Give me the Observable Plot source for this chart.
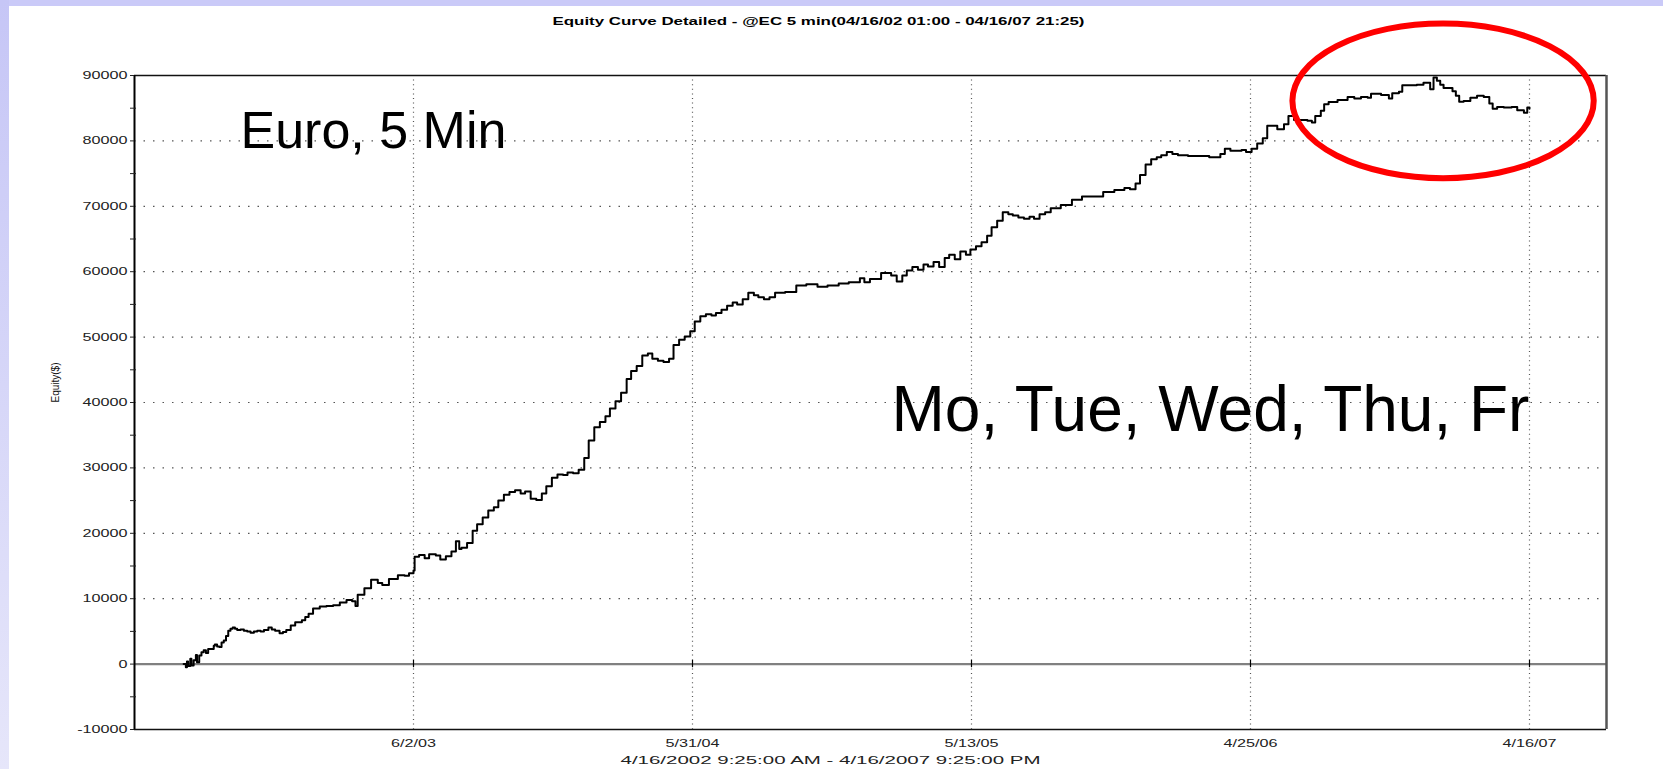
<!DOCTYPE html>
<html>
<head>
<meta charset="utf-8">
<script src="https://cdn.jsdelivr.net/npm/d3@7"></script>
<script src="https://cdn.jsdelivr.net/npm/@observablehq/plot@0.6"></script>
<style>
  html, body { margin: 0; padding: 0; background: #fff; }
  body { width: 1663px; height: 769px; position: relative; overflow: hidden; font-family: "Liberation Sans", Arial, sans-serif; }
  #band-top { position: absolute; left: 0; top: 0; width: 1663px; height: 6px; background: #cacaf8; z-index: 2; }
  #band-left { position: absolute; left: 0; top: 0; width: 9px; height: 769px; background: linear-gradient(#c6c6f6, #e6e6fa); z-index: 2; }
  #chart { position: absolute; left: 0; top: 0; }
</style>
</head>
<body>
<div id="band-top"></div>
<div id="band-left"></div>
<div id="chart"></div>
<script>
// ---------- data ----------
const titleText = "Equity Curve Detailed - @EC 5 min(04/16/02 01:00 - 04/16/07 21:25)";
const xLabelText = "4/16/2002 9:25:00 AM - 4/16/2007 9:25:00 PM";
const yLabelText = "Equity($)";
const notes = ["Euro, 5 Min", "Mo, Tue, Wed, Thu, Fr"];

// bar position (sessions, 250 per grid interval) and equity in $
const bars = [44,46,47,48,50,51,53,55,56,58,60,62,64,66,68,71,72,74,76,78,80,82,84,86,88,90,92,95,98,101,104,107,110,113,116,120,123,126,130,133,136,140,144,150,153,156,160,166,172,178,184,190,195,198,200,206,212,218,222,228,
236,242,246,250,251,255,260,264,270,274,279,284,288,291,293,298,303,307,312,317,322,326,331,336,341,346,350,355,360,365,369,374,379,384,388,393,398,403,407,412,417,422,426,431,436,441,445,450,455,460,464,469,474,479,483,488,493,498,502,507,512,517,521,526,531,536,540,545,550,555,559,564,569,574,583,593,602,612,621,631,640,650,654,659,669,678,683,688,692,697,702,707,711,716,721,726,730,735,740,745,749,754,759,764,768,773,778,783,787,792,797,802,806,811,816,821,830,840,849,859,868,878,887,892,897,901,906,911,916,920,925,930,935,944,954,963,973,977,982,992,996,1001,1006,1011,1015,
1018,1024,1030,1034,1039,1045,1051,1055,1058,1063,1066,1070,1078,1087,1093,1099,1105,1108,1117,1124,1127,1133,1136,1143,1149,1155,1161,1164,1167,1170,1173,1181,1184,1187,1191,1197,1203,1209,1214,1217,1221,1227,1234,1239,1245,1248,1250];
const equity = [0,-500,400,-300,800,-200,600,1400,300,1300,1800,2100,1700,2300,2300,2800,3000,2700,2600,3300,3600,4300,5100,5400,5600,5400,5200,5300,5100,5000,4800,5000,5100,5000,5200,5600,5300,5100,4700,4900,5200,5900,6400,6700,7200,7700,8500,8800,8900,9000,9400,9800,9600,8900,10600,11600,12900,12400,12100,13000,
13600,13500,13900,14300,16400,16700,16200,16800,16600,16000,16500,17200,18800,17600,17800,18500,20400,21400,22400,23500,24000,25000,25900,26300,26600,26100,26400,25300,25100,26100,27200,28500,29000,28900,29300,29200,29700,31500,34200,36200,37000,37900,39100,40200,41500,43600,44800,45600,47200,47500,46700,46400,46200,46700,48800,49600,50100,50900,52400,53200,53500,53300,53700,54200,54800,55300,55000,55800,56800,56400,56100,55800,56100,56800,56900,57900,58100,57700,57900,58200,58400,59000,58400,58900,59800,59400,58500,59400,60200,60700,60300,61100,60800,61500,60700,62100,62600,61900,63100,62600,63400,63900,64500,65500,66800,67800,69100,68800,68600,68300,68100,68400,68100,68800,69100,69700,70200,71000,71500,71500,72200,72500,72800,72600,73500,74800,76400,77200,77500,77800,78300,78000,77800,77700,77700,77500,78000,78800,78500,78600,78300,78800,79600,80400,82300,
82300,81800,82550,83800,83200,83200,83100,82800,83800,84600,85600,85950,86260,86700,86500,86700,86600,87200,87000,86500,87300,87500,88500,88500,88600,88900,87900,89700,89200,88600,88100,87600,86900,86000,86100,86600,86900,86700,85700,84900,85200,85100,85200,84700,84300,85100,84900];

const xTickBars = [250, 500, 750, 1000, 1250];
const xTickLabels = ["6/2/03", "5/31/04", "5/13/05", "4/25/06", "4/16/07"];
const yTicks = [-10000, 0, 10000, 20000, 30000, 40000, 50000, 60000, 70000, 80000, 90000];
const yMinorTicks = [-5000, 5000, 15000, 25000, 35000, 45000, 55000, 65000, 75000, 85000];
const yGridValues = [10000, 20000, 30000, 40000, 50000, 60000, 70000, 80000];
const xDomain = [0, 1319];
const yDomain = [-10000, 90000];
// highlighted region (circled in red): bar range and equity range
const highlight = {barStart: 1038, barEnd: 1308, low: 74230, high: 97880};

// ---------- chart ----------
const data = bars.map((b, i) => ({bar: b, equity: equity[i]}));
const labelByBar = new Map(xTickBars.map((b, i) => [b, xTickLabels[i]]));

const chart = Plot.plot({
  width: 1663,
  height: 769,
  marginLeft: 134,
  marginRight: 57,
  marginTop: 75,
  marginBottom: 40,
  style: {background: "transparent", fontFamily: "'Liberation Sans', Arial, sans-serif", fontSize: "11px", color: "#222", overflow: "visible"},
  x: {domain: xDomain, axis: null},
  y: {domain: yDomain, axis: null},
  marks: [
    Plot.ruleY(yGridValues, {stroke: "#555", strokeWidth: 1.2, strokeDasharray: "1.5,8"}),
    Plot.ruleX(xTickBars, {stroke: "#555", strokeWidth: 1.2, strokeDasharray: "1,3.6"}),
    Plot.ruleY([0], {stroke: "#808080", strokeWidth: 2.2}),
    Plot.ruleX(xTickBars, {y1: -550, y2: 550, stroke: "#000", strokeWidth: 1.2}),
    Plot.line(data, {x: "bar", y: "equity", curve: "step-after", stroke: "#000", strokeWidth: 2}),
    Plot.ruleY([yDomain[1]], {stroke: "#111", strokeWidth: 1.5}),
    Plot.ruleY([yDomain[0]], {stroke: "#111", strokeWidth: 1.5}),
    Plot.ruleX([xDomain[0]], {stroke: "#000", strokeWidth: 2}),
    Plot.ruleX([xDomain[1]], {stroke: "#555", strokeWidth: 2.5}),
    Plot.axisY(yTicks, {anchor: "left", tickSize: 4, tickPadding: 3, fontSize: 11, label: null, tickFormat: d => String(d), fill: "#222"}),
    Plot.axisY(yMinorTicks, {anchor: "left", tickSize: 6, dx: 2, label: null, tickFormat: () => ""}),
    Plot.axisX(xTickBars, {anchor: "bottom", tickSize: 0, tickPadding: 10, fontSize: 11, label: null, tickFormat: d => labelByBar.get(d), fill: "#222"}),
    Plot.text([titleText], {frameAnchor: "top", dx: -52, dy: -54, lineAnchor: "middle", fontSize: 10.5, fontWeight: "bold", fill: "#000"}),
    Plot.text([xLabelText], {frameAnchor: "bottom", dx: -40, dy: 31, lineAnchor: "middle", fontSize: 11, fill: "#222"}),
    Plot.text([yLabelText], {frameAnchor: "left", dx: -79, rotate: -90, lineAnchor: "middle", fontSize: 10, fill: "#111"}),
    Plot.text([notes[0]], {frameAnchor: "top-left", textAnchor: "start", lineAnchor: "top", dx: 106, dy: 36, fontSize: 52, fill: "#000"}),
    Plot.text([notes[1]], {frameAnchor: "top-left", textAnchor: "start", lineAnchor: "top", dx: 757, dy: 310.5, fontSize: 64, fill: "#000"})
  ]
});

document.getElementById("chart").appendChild(chart);

// red ellipse around the highlighted region
const sx = chart.scale("x"), sy = chart.scale("y");
const x1 = sx.apply(highlight.barStart), x2 = sx.apply(highlight.barEnd);
const y1 = sy.apply(highlight.high), y2 = sy.apply(highlight.low);
d3.select(chart).append("ellipse")
  .attr("cx", (x1 + x2) / 2).attr("cy", (y1 + y2) / 2)
  .attr("rx", Math.abs(x2 - x1) / 2).attr("ry", Math.abs(y2 - y1) / 2)
  .attr("fill", "none").attr("stroke", "#ff0000").attr("stroke-width", 6);

// the source chart was horizontally stretched: widen its small texts
const stretch = 1.47;
d3.select(chart).selectAll('g[aria-label="y-axis tick label"] text, g[aria-label="x-axis tick label"] text').each(function () {
  const w = this.getComputedTextLength();
  if (w > 0) { this.setAttribute("textLength", w * stretch); this.setAttribute("lengthAdjust", "spacingAndGlyphs"); }
});
const widths = new Map([[titleText, 532], [xLabelText, 420]]);
d3.select(chart).selectAll("text").each(function () {
  const t = this.textContent;
  if (widths.has(t)) { this.setAttribute("textLength", widths.get(t)); this.setAttribute("lengthAdjust", "spacingAndGlyphs"); }
});
</script>
</body>
</html>
